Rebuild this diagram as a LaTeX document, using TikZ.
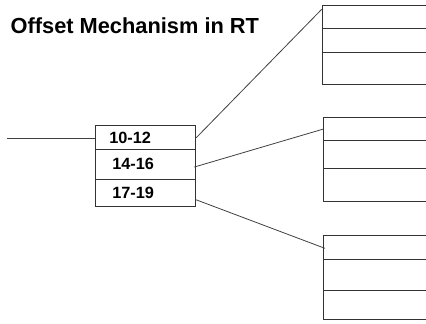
\documentclass[tikz,border=0pt]{standalone}
\usepackage{fontspec}
\setmainfont{Liberation Sans}
\begin{document}
\begin{tikzpicture}[x=1pt,y=-1pt,
  boxline/.style={draw=black!80,line width=1pt},
  link/.style={draw=black!75,line width=0.8pt},
  cell/.style={boxline,anchor=north west,minimum width=100pt,inner ysep=0pt,
    align=left,font=\bfseries\fontsize{16.3}{18}\selectfont},
  row/.style={boxline,anchor=north west,minimum width=112pt,inner sep=0pt}]
\useasboundingbox (0,0) rectangle (426,324);
\clip (0,0) rectangle (426,324);

% title
\node[anchor=base west,inner sep=0pt,font=\bfseries\fontsize{21.8}{24}\selectfont]
  (title) at (10.5,34) {Offset Mechanism in RT};

% central offset table
\node[cell,minimum height=23.7pt,inner xsep=13.5pt,text width=73pt]
  (c1) at (95.3,125.3) {10-12};
\node[cell,minimum height=29.7pt,inner xsep=16.5pt,text width=67pt]
  (c2) at (95.3,149) {14-16};
\node[cell,minimum height=27.3pt,inner xsep=16.5pt,text width=67pt]
  (c3) at (95.3,178.7) {17-19};

% target tables
\node[row,minimum height=22.7pt] (a1) at (321.7,5) {};
\node[row,minimum height=24.6pt] (a2) at (321.7,27.7) {};
\node[row,minimum height=31.7pt] (a3) at (321.7,52.3) {};

\node[row,minimum height=22.7pt] (b1) at (323,117.3) {};
\node[row,minimum height=28.3pt] (b2) at (323,140) {};
\node[row,minimum height=32.7pt] (b3) at (323,168.3) {};

\node[row,minimum height=23.7pt] (d1) at (323,235) {};
\node[row,minimum height=31pt] (d2) at (323,258.7) {};
\node[row,minimum height=29.6pt] (d3) at (323,289.7) {};

% incoming pointer
\coordinate (in) at (6.7,138.7);
\draw[link] (in) -- (in -| c1.west);

% offset links
\draw[link] (c1.east) -- ([yshift=-4.3pt]a1.north west);
\draw[link] ([xshift=-2pt,yshift=-2.7pt]c2.east) -- (b1.west);
\draw[link] ([yshift=-7pt]c3.east) -- ([xshift=2pt,yshift=-1pt]d1.west);
\end{tikzpicture}
\end{document}
